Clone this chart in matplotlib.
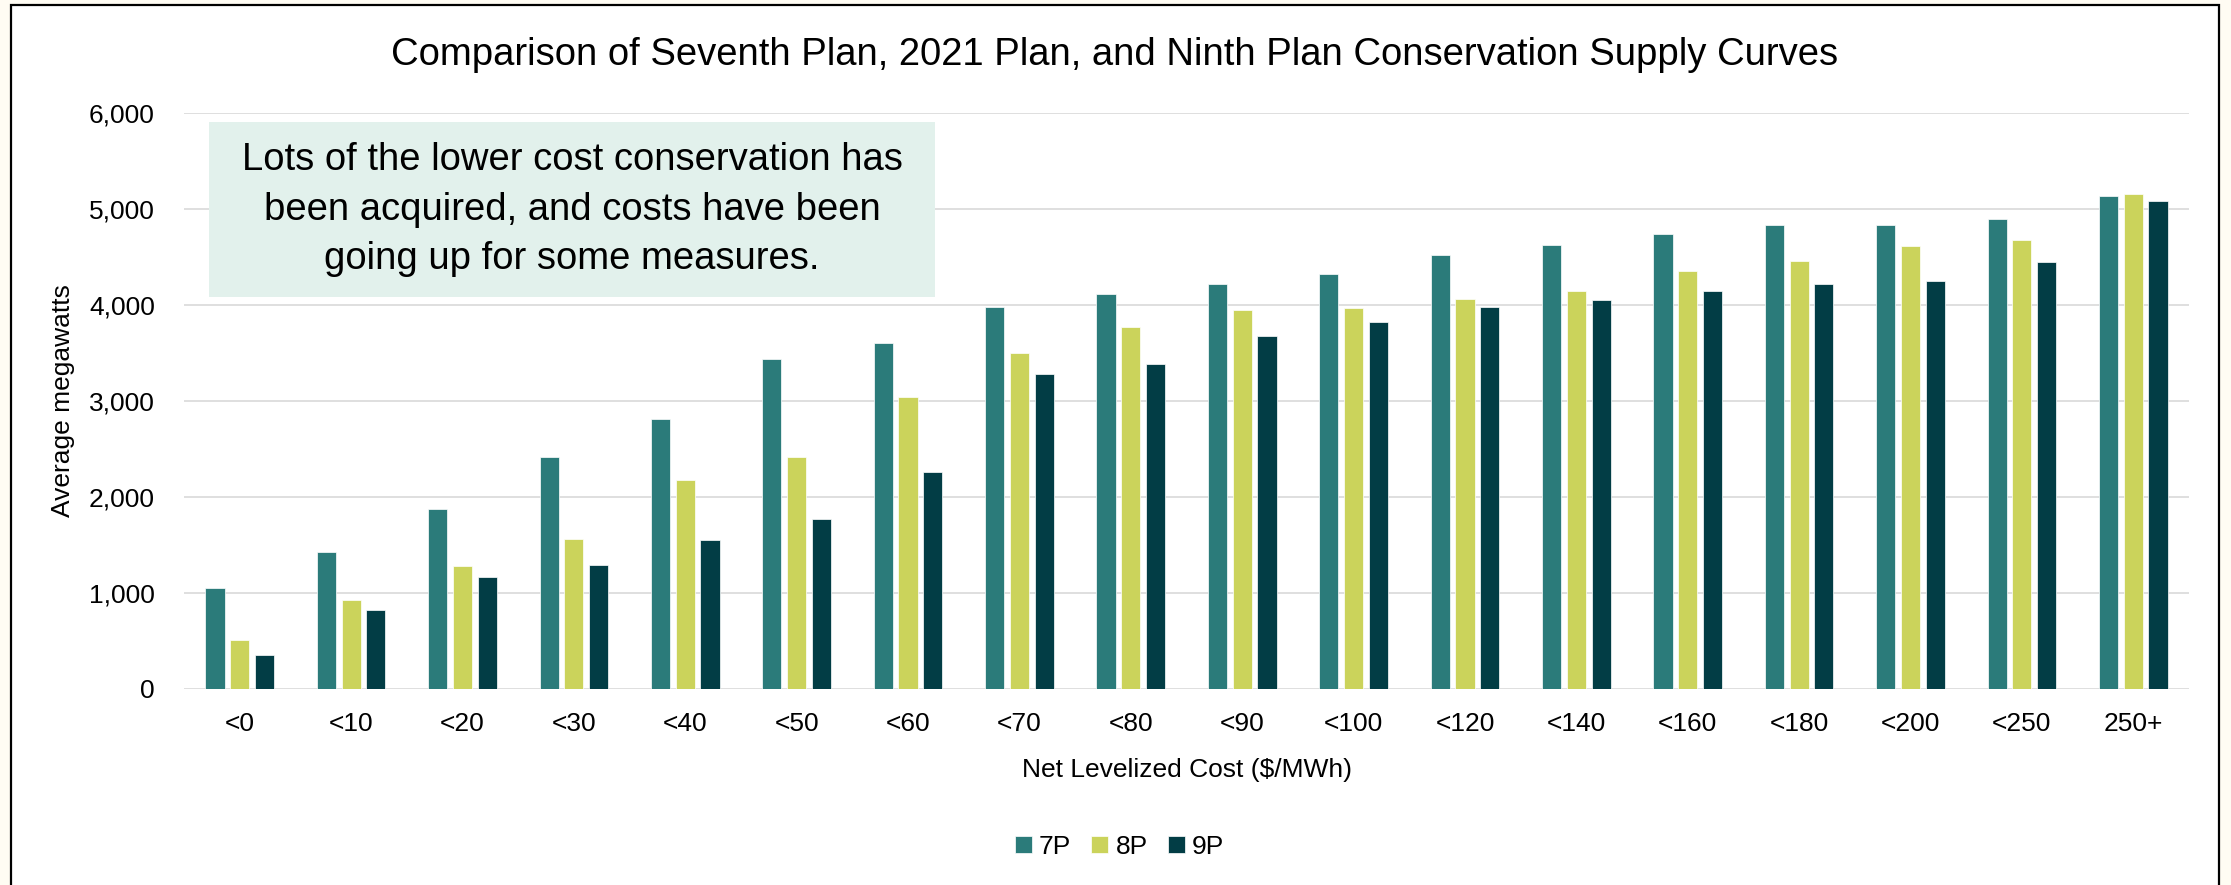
import numpy as np
import matplotlib.pyplot as plt
from matplotlib.patches import Rectangle
from matplotlib.ticker import FuncFormatter

plt.rcParams['font.family'] = ['Liberation Sans', 'DejaVu Sans']

# Data (average megawatts)
categories = ['<0', '<10', '<20', '<30', '<40', '<50', '<60', '<70', '<80',
              '<90', '<100', '<120', '<140', '<160', '<180', '<200', '<250', '250+']
seventh_plan = [1052, 1427, 1875, 2410, 2813, 3434, 3604, 3971, 4111,
                4218, 4322, 4514, 4617, 4736, 4827, 4835, 4893, 5128]
plan_2021 = [510, 927, 1275, 1559, 2171, 2414, 3034, 3493, 3772,
             3947, 3963, 4063, 4147, 4349, 4456, 4613, 4671, 5152]
ninth_plan = [344, 823, 1164, 1292, 1549, 1762, 2261, 3281, 3385,
              3668, 3816, 3979, 4053, 4139, 4217, 4246, 4448, 5082]
series_names = ['7P', '8P', '9P']
series_colors = ['#2B7B7A', '#CBD35B', '#023D45']

title = 'Comparison of Seventh Plan, 2021 Plan, and Ninth Plan Conservation Supply Curves'
note = 'Lots of the lower cost conservation has\nbeen acquired, and costs have been\ngoing up for some measures.'

W, H = 2231, 885
fig = plt.figure(figsize=(W / 100, H / 100), dpi=100)
fig.patch.set_facecolor('#FFFCF3')

# white chart frame with black border (bottom edge runs off the image)
frame = Rectangle((11 / W, -0.05), (2219 - 11) / W, 1.05 - 5 / H,
                  transform=fig.transFigure, facecolor='white',
                  edgecolor='black', linewidth=1.6, zorder=-10)
fig.patches.append(frame)

ax = fig.add_axes([184 / W, 1 - 688.5 / H, (2189 - 184) / W, (688.5 - 112.7) / H])
ax.set_facecolor('none')
ax.set_zorder(1)

x = np.arange(len(categories))
offsets = [-0.222, 0.0, 0.222]
for vals, name, col, off in zip([seventh_plan, plan_2021, ninth_plan],
                                series_names, series_colors, offsets):
    ax.bar(x + off, vals, width=0.172, color=col, label=name,
           edgecolor='white', linewidth=0.5, zorder=3)

ax.set_xlim(-0.5, len(categories) - 0.5)
ax.set_ylim(0, 6000)
ax.set_yticks(np.arange(0, 6001, 1000))
ax.yaxis.set_major_formatter(FuncFormatter(lambda v, p: f'{int(v):,}'))
ax.set_xticks(x)
ax.set_xticklabels(categories)
ax.tick_params(axis='both', length=0, labelsize=19, colors='black')
ax.tick_params(axis='y', pad=21)
ax.tick_params(axis='x', pad=17)
ax.grid(axis='y', color='#D9D9D9', linewidth=1.2, zorder=0)
ax.set_axisbelow(True)
for s in ax.spines.values():
    s.set_visible(False)

ax.set_ylabel('Average megawatts', fontsize=19, va='center')
ax.yaxis.set_label_coords((63 - 184) / (2189 - 184), 0.5)
ax.set_xlabel('Net Levelized Cost ($/MWh)', fontsize=19, va='center')
ax.xaxis.set_label_coords(0.5, -(770 - 688.5) / (688.5 - 112.7))

fig.text(1115 / W, 1 - 65 / H, title, ha='center', va='baseline', fontsize=27.5)

# annotation box
bx0, bx1, by0, by1 = 209.3, 935, 122.3, 296.7
box = Rectangle((bx0 / W, 1 - by1 / H), (bx1 - bx0) / W, (by1 - by0) / H,
                transform=fig.transFigure, facecolor='#E2F1EC',
                edgecolor='none', zorder=5)
fig.patches.append(box)
fig.text((bx0 + bx1) / 2 / W, 1 - (by0 + by1) / 2 / H, note, ha='center',
         va='center', multialignment='center', fontsize=27.5,
         linespacing=1.48, zorder=6)

fig.legend(loc='center', bbox_to_anchor=(1119.5 / W, 1 - 846.5 / H), ncol=3,
           frameon=False, fontsize=19, handlelength=0.64, handleheight=0.64,
           handletextpad=0.27, columnspacing=0.76)

fig.savefig('out.png', dpi=100, facecolor=fig.get_facecolor())
